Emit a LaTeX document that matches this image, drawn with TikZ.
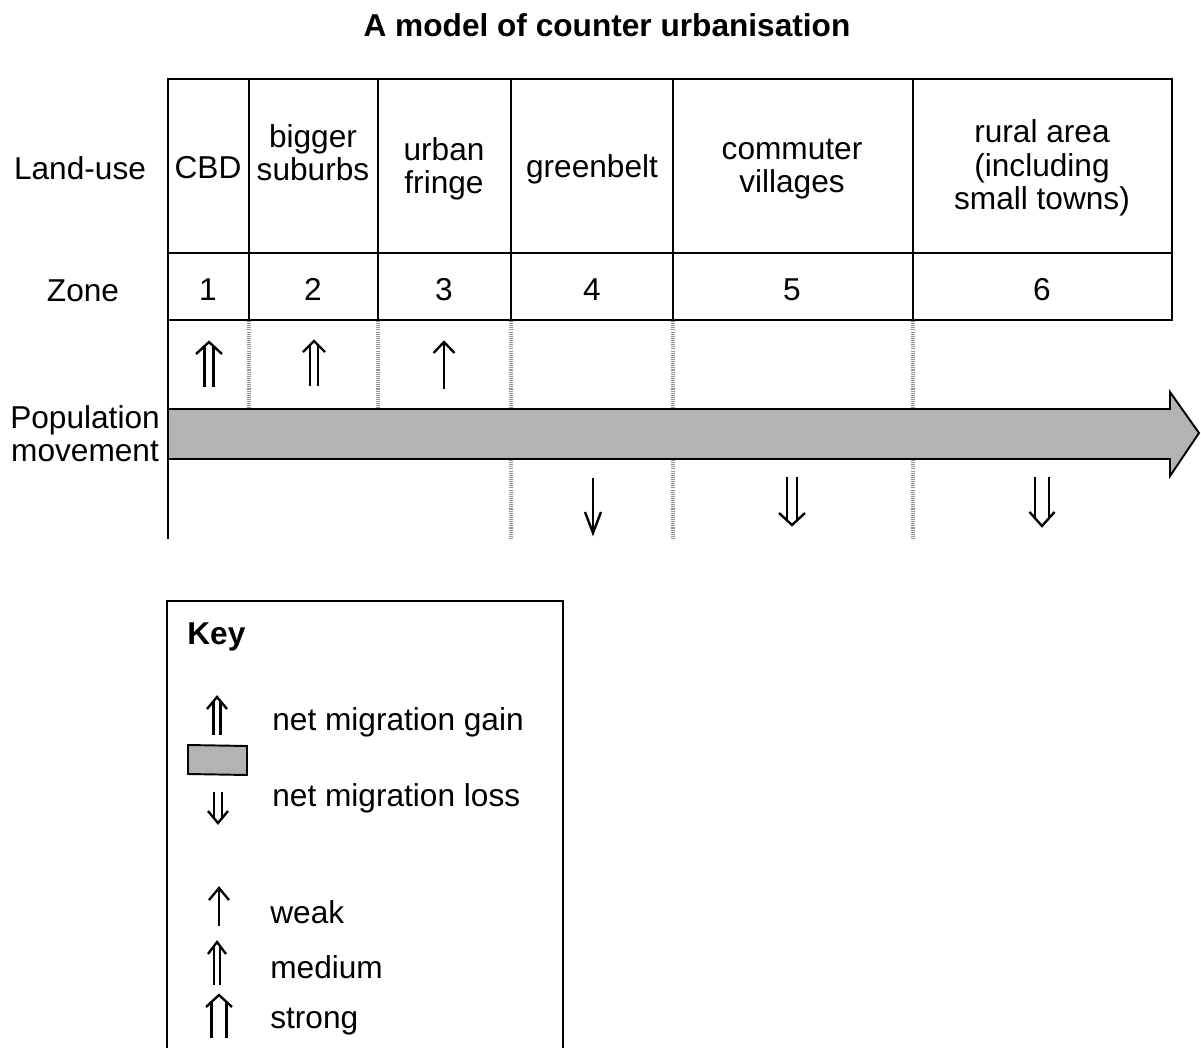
\documentclass[tikz,border=0pt]{standalone}
\usepackage{fontspec}
\setmainfont{Liberation Sans}
\usepackage{tikz}
\usetikzlibrary{arrows}
\definecolor{bandgrey}{RGB}{179,179,179}
\tikzset{
  tableline/.style={line width=1.1pt},
  zoneline/.style={draw=gray!85,line width=2.6pt,dash pattern=on 0.6pt off 0.6pt},
  symline/.style={line width=1.35pt,line join=miter},
  lbl/.style={inner sep=0pt,align=center,font=\fontsize{18}{19}\selectfont},
}
% x, tip y, length, half head width, head height, direction (1 up, -1 down)
\newcommand{\singlemig}[6]{%
  \begin{scope}[shift={(#1,#2)},yscale=#6]
    \draw[symline] (-#4,#5) -- (0,0) -- (#4,#5);
    \draw[symline] (0,0) -- (0,#3);
  \end{scope}}
% x, tip y, length, half gap, half head width, head height, direction
\newcommand{\doublemig}[7]{%
  \begin{scope}[shift={(#1,#2)},yscale=#7]
    \draw[symline] (-#5,#6) -- (0,0) -- (#5,#6);
    \draw[symline] (-#4,{#6*#4/#5}) -- (-#4,#3);
    \draw[symline] (#4,{#6*#4/#5}) -- (#4,#3);
  \end{scope}}

\begin{document}
\begin{tikzpicture}[x=0.02cm,y=-0.02cm]
\useasboundingbox (0,0) rectangle (1201,1048);

\node[lbl,font=\fontsize{18}{19}\selectfont\bfseries] (title) at (607,25) {A model of counter urbanisation};

\draw[tableline] (168,79) rectangle (1172,320);
\draw[tableline] (168,253) -- (1172,253);
\foreach \x in {249,378,511,673,913} \draw[tableline] (\x,79) -- (\x,320);
\draw[tableline] (168,320) -- (168,539);
\foreach \x in {249,378,511,673,913} \draw[zoneline] (\x,321) -- (\x,408);
\foreach \x in {511,673,913} \draw[zoneline] (\x,460) -- (\x,539);

\draw[tableline,fill=bandgrey] (168,409) -- (1170,409) -- (1170,392) -- (1199,433)
  -- (1170,476) -- (1170,459) -- (168,459) -- cycle;

\node[lbl] (landuse) at (80,168) {Land-use};
\node[lbl] (zone) at (83,291) {Zone};
\node[lbl] (popmove) at (85,434) {Population\\movement};

\node[lbl] (cbd) at (208,168) {CBD};
\node[lbl] (suburbs) at (313,153) {bigger\\suburbs};
\node[lbl] (fringe) at (444,169) {urban\\fringe};
\node[lbl] (greenbelt) at (592,169) {greenbelt};
\node[lbl] (villages) at (792,169) {commuter\\villages};
\node[lbl] (rural) at (1042,168) {rural area\\(including\\small towns)};

\node[lbl,anchor=base] (zone1) at (208,300) {1};
\node[lbl,anchor=base] (zone2) at (313,300) {2};
\node[lbl,anchor=base] (zone3) at (444,300) {3};
\node[lbl,anchor=base] (zone4) at (592,300) {4};
\node[lbl,anchor=base] (zone5) at (792,300) {5};
\node[lbl,anchor=base] (zone6) at (1042,300) {6};

\doublemig{209}{342}{45}{4.5}{13}{12}{1}
\doublemig{314}{341}{45}{3.8}{11}{11}{1}
\singlemig{444}{342}{47}{10.5}{11}{1}
\singlemig{593}{533}{55}{8}{21}{-1}
\doublemig{792}{525}{48}{4.7}{13}{12}{-1}
\doublemig{1042}{526}{49}{7}{12.5}{14}{-1}

\draw[tableline] (167,1048) -- (167,601) -- (563,601) -- (563,1048);
\node[lbl,anchor=west,font=\fontsize{18}{19}\selectfont\bfseries] (key) at (187,637) {Key};

\doublemig{217}{697}{38}{3.5}{10}{12}{1}
\draw[tableline,fill=bandgrey] (188,745) -- (247,746) -- (247,775) -- (188,774) -- cycle;
\doublemig{218}{823}{31}{4}{10}{12}{-1}
\node[lbl,anchor=west] (gain) at (272,722) {net migration gain};
\node[lbl,anchor=west] (loss) at (272,798) {net migration loss};

\singlemig{219}{888}{38}{10}{12}{1}
\doublemig{217}{942}{43}{3}{9}{12}{1}
\doublemig{219}{995}{43}{7.5}{13}{12}{1}
\node[lbl,anchor=west] (weak) at (270,912) {weak};
\node[lbl,anchor=west] (medium) at (270,967) {medium};
\node[lbl,anchor=west] (strong) at (270,1022) {strong};

\end{tikzpicture}
\end{document}
